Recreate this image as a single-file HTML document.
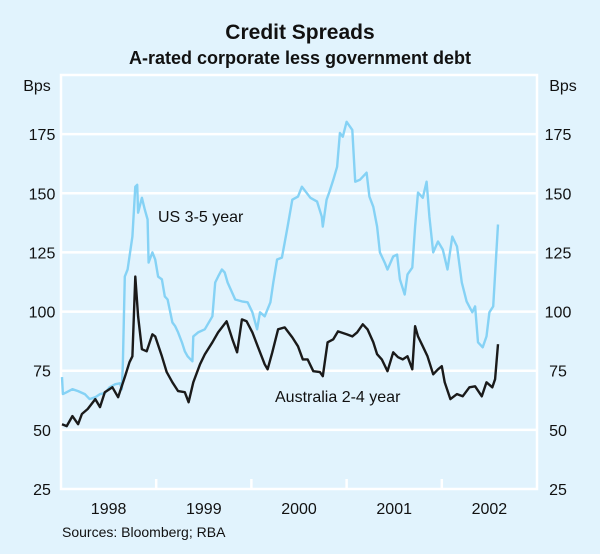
<!DOCTYPE html>
<html><head><meta charset="utf-8"><style>
html,body{margin:0;padding:0;background:#e1f3fd;}
svg{display:block;font-family:"Liberation Sans",Arial,sans-serif;}
</style></head><body>
<svg id="chart" width="600" height="554" viewBox="0 0 600 554" xmlns="http://www.w3.org/2000/svg">
<rect x="0" y="0" width="600" height="554" fill="#e1f3fd"/>
<text x="300" y="39" text-anchor="middle" font-size="21" font-weight="bold" fill="#111">Credit Spreads</text>
<text x="300" y="64" text-anchor="middle" font-size="18" font-weight="bold" fill="#111">A-rated corporate less government debt</text>
<text x="37" y="91" text-anchor="middle" font-size="16" fill="#111">Bps</text>
<text x="563" y="91" text-anchor="middle" font-size="16" fill="#111">Bps</text>
<g id="grid"></g>
<g id="series"></g>
<text x="158" y="222" font-size="16" fill="#111">US 3-5 year</text>
<text x="275" y="402" font-size="16" fill="#111">Australia 2-4 year</text>
<text x="62" y="537" font-size="14" fill="#111">Sources: Bloomberg; RBA</text>
</svg>
<script>
const yTicks=[25,50,75,100,125,150,175];
const years=[1998,1999,2000,2001,2002];
const usT=[.01,.02,.06,.12,.18,.25,.30,.36,.41,.46,.51,.57,.62,.64,.65,.67,.70,.75,.78,.80,.81,.85,.88,.91,.92,.96,.99,1.02,1.06,1.09,1.12,1.17,1.20,1.23,1.27,1.30,1.33,1.38,1.39,1.44,1.51,1.59,1.62,1.65,1.69,1.72,1.75,1.83,1.90,1.96,2.01,2.06,2.09,2.14,2.20,2.23,2.27,2.32,2.35,2.38,2.43,2.49,2.53,2.62,2.69,2.74,2.75,2.79,2.82,2.86,2.90,2.93,2.96,3.00,3.06,3.09,3.14,3.21,3.24,3.28,3.32,3.35,3.40,3.43,3.49,3.53,3.56,3.61,3.64,3.69,3.72,3.75,3.80,3.84,3.87,3.91,3.96,4.01,4.06,4.11,4.16,4.21,4.26,4.32,4.35,4.38,4.43,4.47,4.50,4.54,4.59];
const usV=[72.3,65.1,65.9,67.2,66.4,65.1,63.0,63.8,65.1,65.5,68.0,69.3,69.7,67.2,78.6,114.8,117.8,131.7,152.8,153.6,141.8,148.1,143.1,138.9,120.7,125.0,122.0,114.8,113.6,106.4,105.1,95.4,93.8,91.2,87.0,83.2,81.1,79.0,89.5,91.2,92.5,98.0,112.3,114.8,117.8,116.5,112.3,105.1,104.3,103.9,99.7,92.5,99.7,98.0,103.9,112.3,122.0,122.8,129.2,135.9,147.3,148.6,152.8,148.1,146.5,140.1,135.9,147.3,150.7,155.7,161.2,175.5,173.9,180.2,176.8,154.9,155.7,158.7,148.6,144.3,135.9,125.0,120.7,117.8,123.3,124.1,113.6,107.2,115.7,118.6,135.9,150.3,148.1,154.9,140.1,125.0,129.6,126.2,117.8,131.7,127.5,112.3,104.3,99.7,102.2,87.0,84.9,89.5,99.7,102.2,136.8];
const auT=[.01,.06,.12,.18,.22,.28,.36,.41,.46,.54,.60,.67,.72,.75,.78,.81,.85,.90,.96,.99,1.06,1.11,1.17,1.23,1.30,1.34,1.39,1.46,1.51,1.59,1.65,1.74,1.80,1.85,1.90,1.95,2.01,2.07,2.14,2.17,2.22,2.28,2.35,2.43,2.49,2.54,2.59,2.65,2.72,2.75,2.80,2.86,2.91,3.00,3.06,3.11,3.17,3.22,3.28,3.32,3.37,3.43,3.49,3.54,3.59,3.64,3.69,3.72,3.75,3.80,3.85,3.91,3.96,4.00,4.03,4.09,4.16,4.22,4.29,4.35,4.42,4.47,4.53,4.56,4.59];
const auV=[52.4,51.6,55.8,52.4,56.7,58.8,63.0,59.6,65.9,68.0,63.8,72.3,78.6,81.1,114.8,98.0,84.1,83.2,90.4,89.5,81.1,74.4,70.1,66.4,65.9,61.7,70.1,77.7,81.9,87.0,91.2,95.9,88.3,82.8,96.7,95.9,91.2,84.9,77.7,75.6,82.8,92.5,93.3,89.1,85.3,79.8,79.8,74.8,74.4,72.7,87.0,88.3,91.6,90.4,89.5,91.2,94.6,92.5,87.0,82.0,79.8,74.8,82.8,80.7,79.8,81.1,75.6,93.8,89.5,85.3,81.1,73.5,75.6,76.9,70.1,63.0,65.1,64.2,68.0,68.4,64.2,70.1,68.0,71.4,86.2];

const L=61,R=537,T=75,B=489;
const x=t=>L+t*(R-L)/5;
const y=v=>B-(v-25)*(B-T)/175;
const NS='http://www.w3.org/2000/svg';
const svg=document.getElementById('chart');
const grid=document.getElementById('grid');
const ser=document.getElementById('series');
function mk(tag,attrs,parent){const e=document.createElementNS(NS,tag);for(const k in attrs)e.setAttribute(k,attrs[k]);parent.appendChild(e);return e;}
const frame=mk('rect',{x:L,y:T,width:R-L,height:B-T,fill:'none',stroke:'#fff','stroke-width':2.5},grid);


yTicks.forEach(v=>{
  if(v>25){const g=mk('line',{x1:L,x2:R,y1:y(v),y2:y(v),stroke:'#fff','stroke-width':2.5},grid);
  
  }
  const a=mk('text',{x:42,y:y(v)+6,'text-anchor':'middle','font-size':16,fill:'#111'},svg);a.textContent=v;
  
  
  const b=mk('text',{x:558,y:y(v)+6,'text-anchor':'middle','font-size':16,fill:'#111'},svg);b.textContent=v;
  
  
});
years.forEach((yr,i)=>{
  if(i>0){const tk=mk('line',{x1:x(i),x2:x(i),y1:B,y2:B-10,stroke:'#fff','stroke-width':2.5},grid);
  
  }
  const tx=mk('text',{x:x(i+0.5),y:514,'text-anchor':'middle','font-size':16,fill:'#111'},svg);tx.textContent=yr;
  
  
});
function line(ts,vs,col,name){
  const d=ts.map((t,i)=>(i?'L':'M')+x(t).toFixed(1)+','+y(vs[i]).toFixed(1)).join('');
  const p=mk('path',{d:d,fill:'none',stroke:col,'stroke-width':2.4,'stroke-linejoin':'round'},ser);
  
  
}
line(usT,usV,'#85d2f5','us-3-5-year-line');
line(auT,auV,'#1a1a1a','australia-2-4-year-line');
</script>
</body></html>
